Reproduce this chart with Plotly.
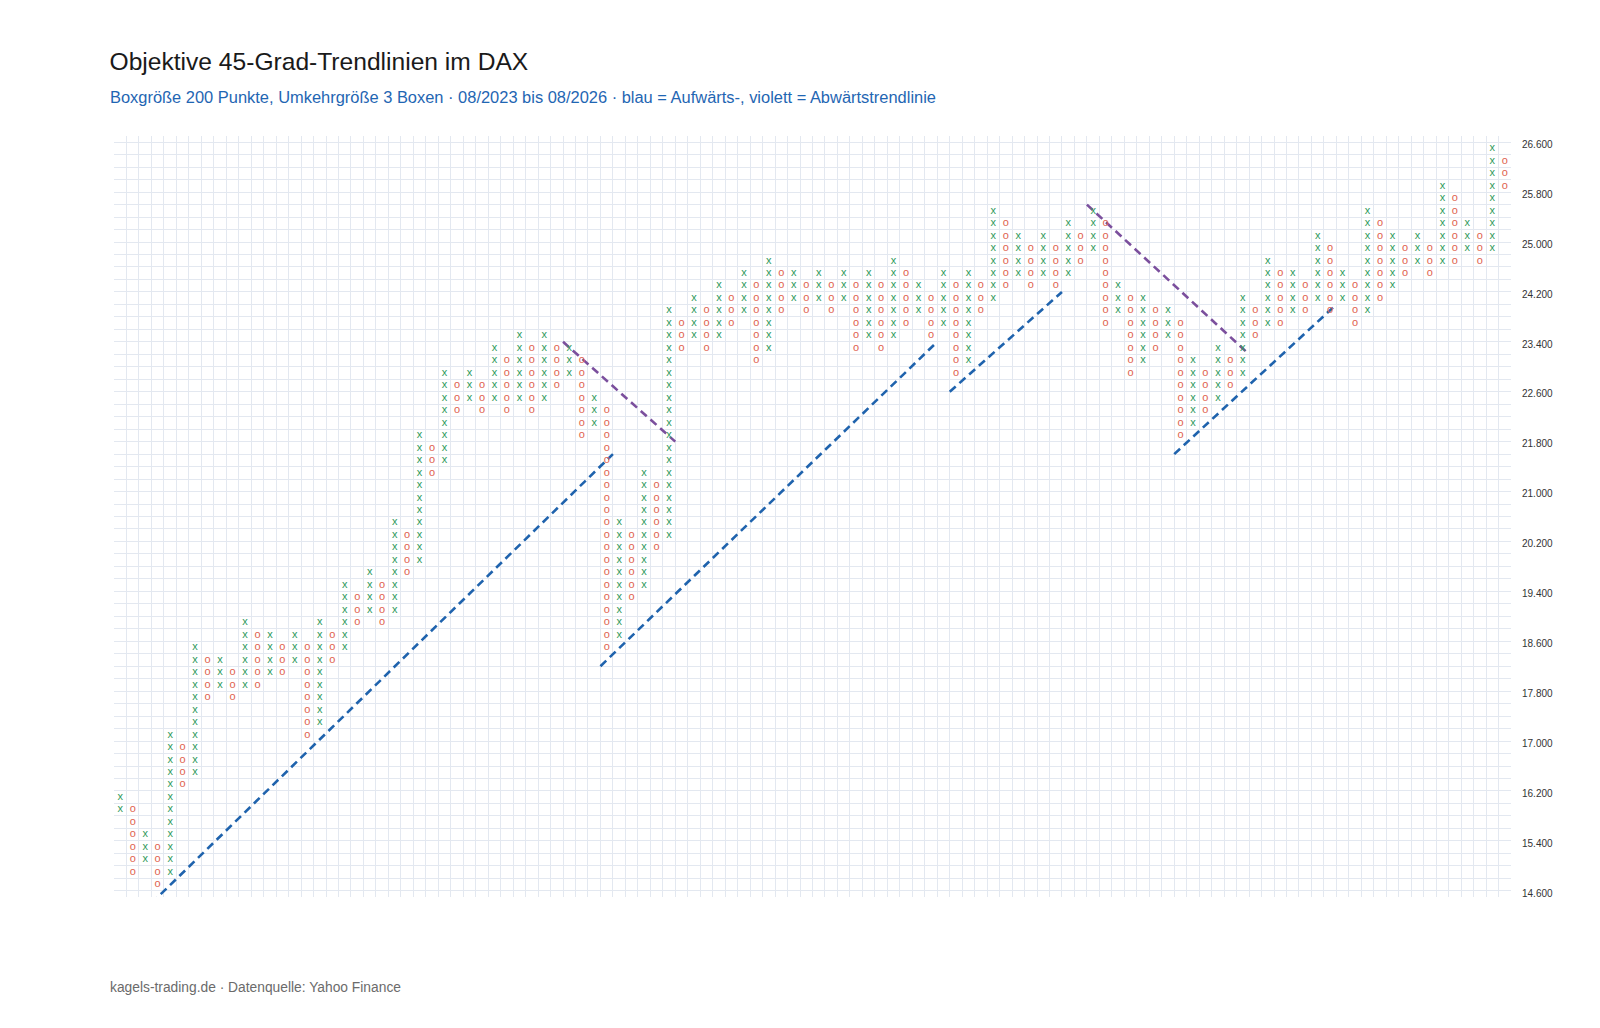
import plotly.graph_objects as go

# Point & Figure: DAX, Boxgröße 200, Umkehr 3 Boxen
BOX = 200

# Spaltentyp je Spalte (1..112)
col_type = list(
    "XOXOXOXOXOXOXOXOXOXOXOXOXOXOXOXOXOXOXOXO"
    "XOXOXOXOXOXOXOXOXOXOXOXOXOXOXOXOXOXOXOXO"
    "XOXOXOXOXOXOXOXOXOXOXOXOXOXOXOXO"
)

# unterstes und oberstes Kästchen je Spalte (Punkte)
col_low = [
    16000, 15000, 15200, 14800, 15000, 16400, 16600, 17800, 18000, 17800,
    18000, 18000, 18200, 18200, 18400, 17200, 17400, 18400, 18600, 19000,
    19200, 19000, 19200, 19800, 20000, 21400, 21600, 22400, 22600, 22400,
    22600, 22400, 22600, 22400, 22600, 22800, 23000, 22000, 22200, 18600,
    18800, 19400, 19600, 20200, 20400, 23400, 23600, 23400, 23600, 23800,
    24000, 23200, 23400, 24000, 24200, 24000, 24200, 24000, 24200, 23400,
    23600, 23400, 23600, 23800, 24000, 23600, 23800, 23000, 23200, 24000,
    24200, 24400, 24600, 24400, 24600, 24400, 24600, 24800, 25000, 23800,
    24000, 23000, 23200, 23400, 23600, 22000, 22200, 22400, 22600, 22800,
    23000, 23600, 23800, 23800, 24000, 24000, 24200, 24000, 24200, 23800,
    24000, 24200, 24400, 24600, 24800, 24600, 24800, 24800, 25000, 24800,
    25000, 26000,
]
col_high = [
    16200, 16000, 15600, 15400, 17200, 17000, 18600, 18400, 18400, 18200,
    19000, 18800, 18800, 18600, 18800, 18600, 19000, 18800, 19600, 19400,
    19800, 19600, 20600, 20400, 22000, 21800, 23000, 22800, 23000, 22800,
    23400, 23200, 23600, 23400, 23600, 23400, 23400, 23200, 22600, 22400,
    20600, 20400, 21400, 21200, 24000, 23800, 24200, 24000, 24400, 24200,
    24600, 24400, 24800, 24600, 24600, 24400, 24600, 24400, 24600, 24400,
    24600, 24400, 24800, 24600, 24400, 24200, 24600, 24400, 24600, 24400,
    25600, 25400, 25200, 25000, 25200, 25000, 25400, 25200, 25600, 25400,
    24400, 24200, 24200, 24000, 24000, 23800, 23200, 23000, 23400, 23200,
    24200, 24000, 24800, 24600, 24600, 24400, 25200, 25000, 24600, 24400,
    25600, 25400, 25200, 25000, 25200, 25000, 26000, 25800, 25400, 25200,
    26600, 26400,
]

# 45-Grad-Trendlinien (Spalte, Kurs) Anfang -> Ende
trend_dir = ["up", "down", "up", "up", "down", "up"]
trend_x0 = [3.5, 36.5, 39.5, 67.5, 78.5, 85.5]
trend_y0 = [14500, 23500, 18300, 22700, 25700, 21700]
trend_x1 = [40.5, 45.5, 66.5, 76.5, 91.5, 98.5]
trend_y1 = [21700, 21900, 23500, 24300, 23300, 24100]

y_ticks = list(range(14600, 26601, 800))

X_COLOR = "#2f9a5c"
O_COLOR = "#e0624f"
UP_COLOR = "#1f63ad"
DOWN_COLOR = "#7b4f9d"
FONT = "Liberation Sans, Arial, sans-serif"

xs_x, ys_x, xs_o, ys_o = [], [], [], []
for col, (kind, lo, hi) in enumerate(zip(col_type, col_low, col_high), start=1):
    for price in range(lo, hi + BOX, BOX):
        if kind == "X":
            xs_x.append(col)
            ys_x.append(price)
        else:
            xs_o.append(col)
            ys_o.append(price)

fig = go.Figure()

# Trendlinien
for d, x0, y0, x1, y1 in zip(trend_dir, trend_x0, trend_y0, trend_x1, trend_y1):
    fig.add_trace(go.Scatter(
        x=[x0, x1], y=[y0, y1], mode="lines",
        line=dict(color=UP_COLOR if d == "up" else DOWN_COLOR, width=2.6, dash="8px,5px"),
        hoverinfo="skip", showlegend=False,
    ))

fig.add_trace(go.Scatter(
    x=xs_x, y=ys_x, mode="text", text=["x"] * len(xs_x),
    textfont=dict(family=FONT, size=11, color=X_COLOR),
    textposition="middle center", hoverinfo="skip", showlegend=False,
))
fig.add_trace(go.Scatter(
    x=xs_o, y=ys_o, mode="text", text=["o"] * len(xs_o),
    textfont=dict(family=FONT, size=11, color=O_COLOR),
    textposition="middle center", hoverinfo="skip", showlegend=False,
))

GRID = "#e3e8f0"

# Kursbeschriftung rechts (deutsches Tausendertrennzeichen), leicht angehoben
tick_labels = [
    dict(x=1, xref="paper", y=v, yref="y", text=f"{v:,}".replace(",", "."),
         xanchor="left", yanchor="middle", xshift=9, yshift=4, showarrow=False,
         font=dict(size=10, color="#333333", family=FONT))
    for v in y_ticks
]

fig.update_layout(
    width=1600,
    height=1028,
    margin=dict(l=105.5, r=96.5, t=128, b=139.3),
    paper_bgcolor="white",
    plot_bgcolor="white",
    font=dict(family=FONT, color="#333333"),
    title=dict(
        text="Objektive 45-Grad-Trendlinien im DAX",
        x=101.5 / 1600, xref="container", xanchor="left",
        y=1 - 53.5 / 1028, yanchor="middle",
        font=dict(size=24.6, color="#1a1a1a", family=FONT),
    ),
    annotations=[
        dict(
            text="Boxgröße 200 Punkte, Umkehrgröße 3 Boxen · 08/2023 bis 08/2026 · "
                 "blau = Aufwärts-, violett = Abwärtstrendlinie",
            xref="paper", yref="paper", x=-0.004, y=1.051, xanchor="left", yanchor="middle",
            showarrow=False, font=dict(size=16.45, color="#1f66b3", family=FONT),
        ),
        dict(
            text="kagels-trading.de · Datenquelle: Yahoo Finance",
            xref="paper", yref="paper", x=-0.004, y=-0.119, xanchor="left", yanchor="middle",
            showarrow=False, font=dict(size=13.8, color="#6b6b6b", family=FONT),
        ),
    ] + tick_labels,
    xaxis=dict(
        range=[0.5, 112.5],
        showticklabels=False, showgrid=False, zeroline=False, showline=False,
        ticks="",
        minor=dict(tickmode="linear", tick0=0.5, dtick=1, showgrid=True,
                   gridcolor=GRID, gridwidth=1, ticks=""),
    ),
    yaxis=dict(
        range=[14600, 26800],
        side="right",
        tickmode="array", tickvals=y_ticks, showticklabels=False,
        ticks="",
        showgrid=False, zeroline=False, showline=False,
        minor=dict(tickmode="linear", tick0=14700, dtick=BOX, showgrid=True,
                   gridcolor=GRID, gridwidth=1, ticks=""),
    ),
)

fig.write_html("out.html")
